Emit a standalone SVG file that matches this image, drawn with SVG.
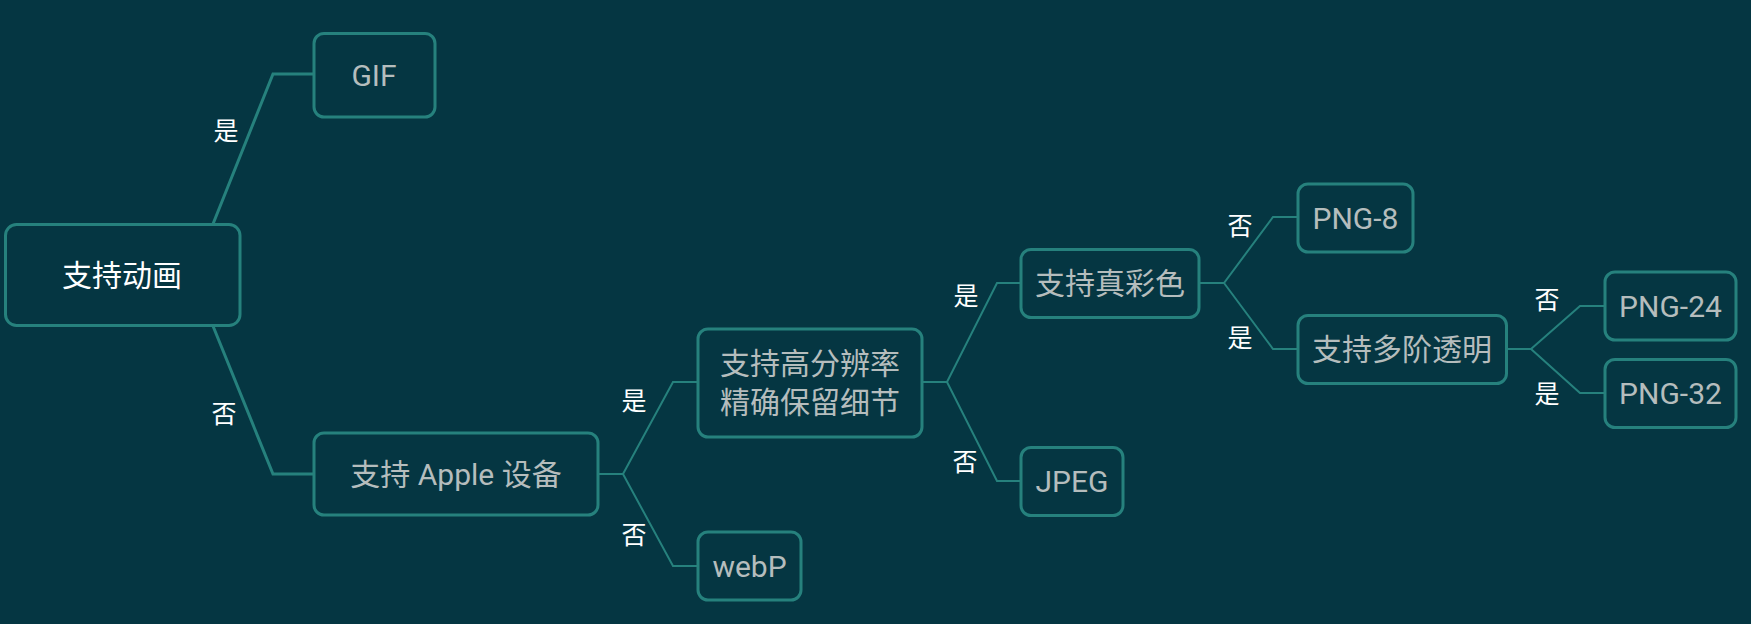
<svg xmlns="http://www.w3.org/2000/svg" width="1751" height="624" viewBox="0 0 1751 624">
<style>
.bg{fill:#053642}
.box{fill:#053642;stroke:#26817d;stroke-width:3}
.t{font-family:Roboto,"Noto Sans CJK SC",sans-serif;font-size:30px;fill:#b5bdbd;text-anchor:middle}
.tr{fill:#ffffff}
.lbl{font-family:Roboto,"Noto Sans CJK SC",sans-serif;font-size:25px;fill:#ffffff;text-anchor:middle}
.c1{fill:none;stroke:#26817d;stroke-width:3}
.c2{fill:none;stroke:#26817d;stroke-width:2}
</style>
<rect class="bg" x="0" y="0" width="1751" height="624"/>
<g id="connectors">
<path class="c1" d="M213,224 L273,74 L314,74"/>
<path class="c1" d="M213,326 L273,474 L314,474"/>
<path class="c2" d="M598,474 L623,474 L673,382 L698,382"/>
<path class="c2" d="M623,474 L673,566 L698,566"/>
<path class="c2" d="M922,382 L947,382 L997,283 L1021,283"/>
<path class="c2" d="M947,382 L997,481 L1021,481"/>
<path class="c2" d="M1199,283 L1224,283 L1273,217 L1298,217"/>
<path class="c2" d="M1224,283 L1273,349 L1298,349"/>
<path class="c2" d="M1506,349 L1531,349 L1580,306 L1605,306"/>
<path class="c2" d="M1531,349 L1580,393 L1605,393"/>
<text class="lbl" x="226" y="140">是</text>
<text class="lbl" x="224" y="423">否</text>
<text class="lbl" x="634" y="410">是</text>
<text class="lbl" x="634" y="544">否</text>
<text class="lbl" x="966" y="305">是</text>
<text class="lbl" x="965" y="471">否</text>
<text class="lbl" x="1240" y="235">否</text>
<text class="lbl" x="1240" y="347">是</text>
<text class="lbl" x="1547" y="309">否</text>
<text class="lbl" x="1547" y="403">是</text>
</g>
<g id="root">
<rect class="box" x="5.5" y="224.5" width="234.5" height="101" rx="11"/>
<text class="t tr" x="122" y="286">支持动画</text>
</g>
<g id="gif">
<rect class="box" x="314" y="33.5" width="121" height="83.5" rx="10"/>
<text class="t" x="374" y="86">GIF</text>
</g>
<g id="apple">
<rect class="box" x="314" y="433" width="284" height="82" rx="10"/>
<text class="t" x="456" y="485">支持 Apple 设备</text>
</g>
<g id="hires">
<rect class="box" x="698" y="329" width="224" height="108" rx="10"/>
<text class="t" x="810" y="374">支持高分辨率</text>
<text class="t" x="810" y="413">精确保留细节</text>
</g>
<g id="webp">
<rect class="box" x="698" y="532" width="103" height="68" rx="10"/>
<text class="t" x="749.5" y="577">webP</text>
</g>
<g id="truecolor">
<rect class="box" x="1021" y="249.5" width="178" height="68" rx="10"/>
<text class="t" x="1110" y="294">支持真彩色</text>
</g>
<g id="jpeg">
<rect class="box" x="1021" y="447.5" width="102" height="68" rx="10"/>
<text class="t" x="1072" y="492">JPEG</text>
</g>
<g id="png8">
<rect class="box" x="1298" y="184" width="115" height="68" rx="10"/>
<text class="t" x="1355.5" y="228.5">PNG-8</text>
</g>
<g id="alpha">
<rect class="box" x="1298" y="315.5" width="208.5" height="68" rx="10"/>
<text class="t" x="1402" y="360">支持多阶透明</text>
</g>
<g id="png24">
<rect class="box" x="1605" y="272" width="131" height="68" rx="10"/>
<text class="t" x="1670.5" y="316.5">PNG-24</text>
</g>
<g id="png32">
<rect class="box" x="1605" y="359.5" width="131" height="68" rx="10"/>
<text class="t" x="1670.5" y="404">PNG-32</text>
</g>
</svg>
